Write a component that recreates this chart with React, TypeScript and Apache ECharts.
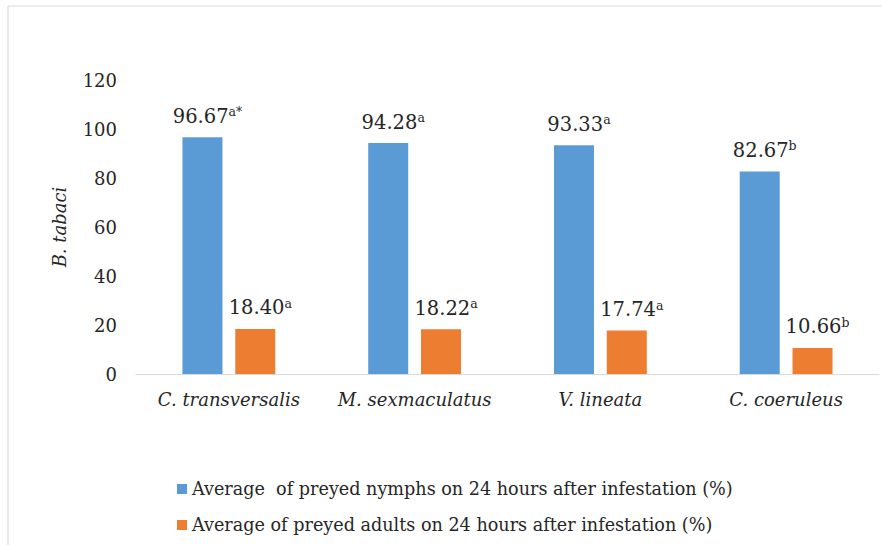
import React, { useEffect, useRef } from "react";
import * as echarts from "echarts";

const categories = ["C. transversalis", "M. sexmaculatus", "V. lineata", "C. coeruleus"];
const nymphValues = [96.67, 94.28, 93.33, 82.67];
const adultValues = [18.4, 18.22, 17.74, 10.66];
const nymphLetters = ["a*", "a", "a", "b"];
const adultLetters = ["a", "a", "a", "b"];
const seriesNames = [
  "Average  of preyed nymphs on 24 hours after infestation (%)",
  "Average of preyed adults on 24 hours after infestation (%)",
];
const yTicks = { min: 0, max: 120, interval: 20 };
const yName = "B. tabaci";

const FONT = "DejaVu Serif";

export default function App() {
  const ref = useRef<HTMLDivElement>(null);
  useEffect(() => {
    document.body.style.margin = "0";
    const chart = echarts.init(ref.current!, null, { renderer: "svg" });
    const labelFor = (letters: string[]) => ({
      show: true,
      position: "top",
      distance: 10,
      offset: [5, 0],
      fontFamily: FONT,
      formatter: (p: any) => `{v|${Number(p.value).toFixed(2)}}{s|${letters[p.dataIndex]}}`,
      rich: {
        v: { fontFamily: FONT, fontSize: 19.5, color: "#262626", lineHeight: 22 },
        s: { fontFamily: FONT, fontSize: 12.5, color: "#262626", verticalAlign: "top", lineHeight: 22 },
      },
    });
    chart.setOption({
      animation: false,
      backgroundColor: "#ffffff",
      textStyle: { fontFamily: FONT },
      graphic: [
        {
          type: "rect",
          shape: { x: 8, y: 6, width: 1000, height: 700 },
          style: { fill: "none", stroke: "#d9d9d9", lineWidth: 1 },
          silent: true,
        },
      ],
      grid: { left: 136, right: 3, top: 80, bottom: 171 },
      legend: {
        orient: "vertical",
        left: 172,
        top: 475,
        itemWidth: 10,
        itemHeight: 10,
        itemGap: 18,
        icon: "rect",
        textStyle: { fontFamily: FONT, fontSize: 17.6, color: "#262626" },
        data: seriesNames,
      },
      xAxis: {
        type: "category",
        data: categories,
        axisLine: { lineStyle: { color: "#d9d9d9", width: 1 } },
        axisTick: { show: false },
        axisLabel: { interval: 0, fontFamily: FONT, fontStyle: "italic", fontSize: 18, color: "#262626", margin: 16 },
      },
      yAxis: {
        type: "value",
        min: yTicks.min,
        max: yTicks.max,
        interval: yTicks.interval,
        name: yName,
        nameLocation: "middle",
        nameGap: 68,
        nameTextStyle: { fontFamily: FONT, fontStyle: "italic", fontSize: 18, color: "#262626" },
        axisLine: { show: false },
        axisTick: { show: false },
        splitLine: { show: false },
        axisLabel: { fontFamily: FONT, fontSize: 18, color: "#262626", margin: 19 },
      },
      series: [
        {
          name: seriesNames[0],
          type: "bar",
          data: nymphValues,
          barWidth: 40,
          barGap: "32%",
          itemStyle: { color: "#5B9BD5" },
          label: labelFor(nymphLetters),
        },
        {
          name: seriesNames[1],
          type: "bar",
          data: adultValues,
          barWidth: 40,
          barGap: "32%",
          itemStyle: { color: "#ED7D31" },
          label: labelFor(adultLetters),
        },
      ],
    });
    return () => chart.dispose();
  }, []);
  return <div ref={ref} style={{ width: 882, height: 545 }} />;
}
